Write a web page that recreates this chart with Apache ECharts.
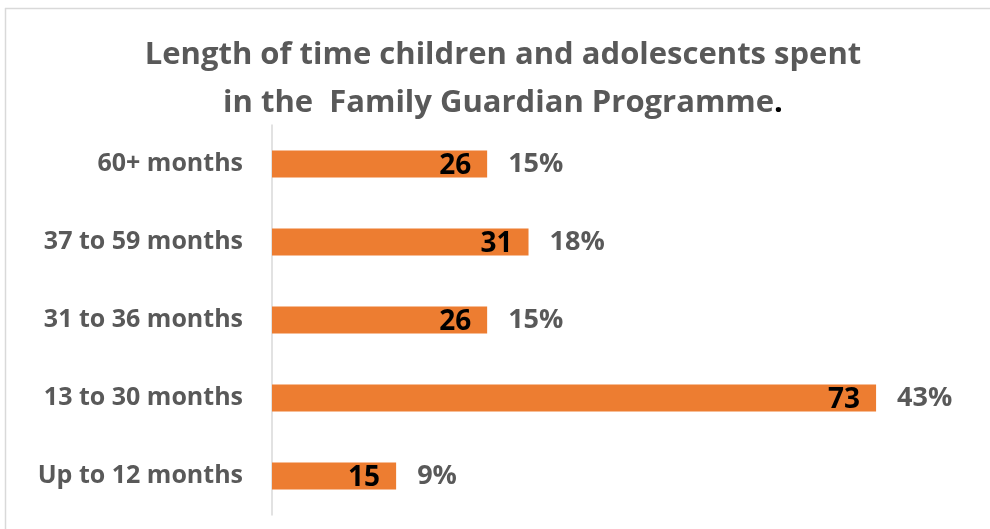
<!DOCTYPE html>
<html>
<head>
<meta charset="utf-8">
<title>Length of time in the Family Guardian Programme</title>
<script src="https://cdn.jsdelivr.net/npm/echarts@6/dist/echarts.min.js"></script>
<style>
  html, body { margin: 0; padding: 0; background: #ffffff; }
  #chart { width: 990px; height: 529px; }
</style>
</head>
<body>
<div id="chart"></div>
<script>
// Duration groups, listed top to bottom as drawn
const categories = ['60+ months', '37 to 59 months', '31 to 36 months', '13 to 30 months', 'Up to 12 months'];
// Number of children and adolescents in each group
const counts = [26, 31, 26, 73, 15];
// Share of the total shown beside each bar
const shares = ['15%', '18%', '15%', '43%', '9%'];

const FONT = '"Open Sans", Lato, sans-serif';
const GREY = '#595959';

const chart = echarts.init(document.getElementById('chart'), null, { renderer: 'canvas' });

chart.setOption({
  animation: false,
  backgroundColor: '#ffffff',
  title: {
    left: 503,
    top: 31,
    padding: 0,
    textAlign: 'center',
    text: '{t|Length of time children and adolescents spent}\n{t|in the  Family Guardian Programme}{d|.}',
    textStyle: {
      rich: {
        t: { fontFamily: FONT, fontWeight: 'bold', fontSize: 31, color: GREY, lineHeight: 48 },
        d: { fontFamily: FONT, fontWeight: 'bold', fontSize: 31, color: '#000000', lineHeight: 48 }
      }
    }
  },
  graphic: [
    { type: 'line', shape: { x1: 5, y1: 8.5, x2: 990, y2: 8.5 }, style: { stroke: '#d9d9d9', lineWidth: 1.5 } },
    { type: 'line', shape: { x1: 5.5, y1: 8, x2: 5.5, y2: 529 }, style: { stroke: '#d9d9d9', lineWidth: 1.5 } }
  ],
  grid: { left: 272, top: 125, right: 56, bottom: 14, containLabel: false },
  xAxis: {
    type: 'value',
    min: 0,
    max: 80,
    show: false
  },
  yAxis: {
    type: 'category',
    data: categories,
    inverse: true,
    axisLine: { show: true, lineStyle: { color: '#d9d9d9', width: 1.5 } },
    axisTick: { show: false },
    axisLabel: {
      margin: 29,
      color: GREY,
      fontFamily: FONT,
      fontWeight: 'bold',
      fontSize: 25
    }
  },
  series: [
    {
      name: 'Count',
      type: 'bar',
      data: counts,
      barWidth: 27,
      itemStyle: { color: '#ED7D31' },
      label: {
        show: true,
        position: 'insideRight',
        distance: 16,
        offset: [0, 2],
        color: '#000000',
        fontFamily: FONT,
        fontWeight: 'bold',
        fontSize: 28
      },
      z: 3
    },
    {
      name: 'Share',
      type: 'bar',
      data: counts,
      barWidth: 27,
      barGap: '-100%',
      itemStyle: { color: 'rgba(0,0,0,0)' },
      label: {
        show: true,
        position: 'right',
        distance: 21,
        color: GREY,
        fontFamily: FONT,
        fontWeight: 'bold',
        fontSize: 27,
        formatter: (p) => shares[p.dataIndex]
      },
      z: 2
    }
  ]
});
</script>
</body>
</html>
